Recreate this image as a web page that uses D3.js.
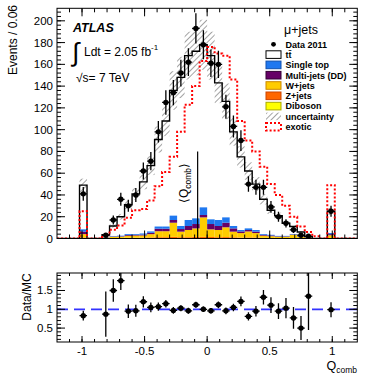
<!DOCTYPE html>
<html><head><meta charset="utf-8">
<script src="https://cdn.jsdelivr.net/npm/d3@7"></script>
<style>
body{margin:0;background:#fff;}
svg{display:block;font-family:"Liberation Sans",Arial,Helvetica,sans-serif;}
</style>
</head><body>
<svg id="c" width="368" height="377"></svg>
<script>
// ---------------- DATA ----------------
const binCenters = [-1.17,-1.11,-1.05,-0.99,-0.93,-0.87,-0.81,-0.75,-0.69,-0.63,-0.57,-0.51,-0.45,-0.39,-0.33,-0.27,-0.21,-0.15,-0.09,-0.03,
                    0.03,0.09,0.15,0.21,0.27,0.33,0.39,0.45,0.51,0.57,0.63,0.69,0.75,0.81,0.87,0.93,0.99,1.05,1.11,1.17];
const binWidth = 0.06;
const dataVals = [null,null,null,41,null,null,3,17,36,30,40,62,71,98,125,134,152,162,193,178,
                  161,160,121,103,90,50,47,47,29,20,14,8,3,2,null,null,25,null,null,null];
const dataErr  = [0,0,0,6.4,0,0,1.7,4.1,6,5.5,6.4,7.9,8.4,9.9,11.2,11.6,12.3,12.7,13.9,13.3,
                  12.7,12.6,11,10.1,9.5,7.1,6.9,6.9,5.4,4.5,3.8,2.9,1.7,1.4,0,0,5,0,0,0];
const ttbar    = [0,0,0,40.6,0,0,2.3,9.2,17.4,26.9,36.9,47.4,60.5,80,97,115,136.5,151,153.5,149.4,
                  150.4,126,106.6,86.5,67.2,52.7,42.2,31.9,22.6,18.6,11.6,6.9,3.6,0.3,0,0,20,0,0,0];
const singleTop= [0,0,0,2.1,0,0,0.2,0.4,0.5,0.8,0.7,1.0,1.3,2.0,2.0,4.0,2.8,5.5,5.2,7.0,
                  4.3,5.5,4.9,2.2,1.3,1.5,1.5,0.7,0.6,0.4,0.4,0.4,0.4,0.3,0,0,1.0,0,0,0];
const multiJets= [0,0,0,2.3,0,0,0.2,0.3,0.4,0.8,0.7,0.8,1.2,2.3,2.3,2.5,2.4,3.7,4.0,2.2,
                  4.9,3.7,4.2,3.0,1.5,1.3,1.3,0.8,0.7,0.4,0.4,0.3,0.4,0.2,0,0,1.0,0,0,0];
const wJets    = [0,0,0,3.0,0,0,0.6,1.2,1.2,1.8,2.0,2.0,3.0,5.5,5.5,13.0,5.1,6.6,7.8,17.9,
                  7.0,6.6,9.0,5.2,4.1,5.5,4.1,2.0,1.6,1.2,1.2,3.0,1.2,0.8,0,0,2.5,0,0,0];
const zJets    = [0,0,0,0.8,0,0,0.2,0.4,0.4,0.6,0.6,0.7,0.8,1.0,1.0,1.2,1.0,1.0,1.2,1.2,
                  1.1,1.0,1.1,0.9,0.7,0.8,0.7,0.5,0.4,0.3,0.3,0.3,0.3,0.2,0,0,0.4,0,0,0];
const diboson  = [0,0,0,0.2,0,0,0,0,0.1,0.1,0.1,0.1,0.2,0.2,0.2,0.3,0.2,0.2,0.3,0.3,
                  0.3,0.2,0.2,0.2,0.2,0.2,0.2,0.1,0.1,0.1,0.1,0.1,0.1,0,0,0,0.1,0,0,0];
const mcUnc    = [0,0,0,6,0,0,0.5,1.5,2.6,4,5.3,6.8,8.7,12,14,17.7,19,22,22,23,
                  22,18.6,16.4,12.7,9.8,8,6.5,4.7,3.4,2.7,1.8,1.4,0.8,0.3,0,0,3.2,0,0,0];
const exotic   = [0,0,0,25,0,0,3,8,12,19,26,27,35,48,61,75,98,123,140,163,
                  176,170,168,146,108,90,80,66,50,40,30,20,11,6,2,0,49,0,0,0];
const ratioVals= [null,null,null,0.83,null,null,0.87,1.5,1.76,0.95,0.96,1.2,1.05,1.07,1.15,0.97,1.03,0.96,1.12,1.0,
                  0.96,1.12,0.96,1.05,1.21,0.81,0.95,1.32,1.11,0.95,1.03,0.77,0.5,1.35,null,null,0.99,null,null,null];
const ratioErr = [0,0,0,0.13,0,0,0.6,0.3,0.25,0.18,0.16,0.15,0.13,0.11,0.1,0.09,0.08,0.08,0.08,0.075,
                  0.075,0.09,0.09,0.1,0.13,0.11,0.14,0.19,0.21,0.21,0.27,0.29,0.32,0.9,0,0,0.2,0,0,0];
const meanQ = -0.076, meanLineTop = 80;
const yTicksMain = [0,20,40,60,80,100,120,140,160,180,200];
const xTicks = [-1,-0.5,0,0.5,1];
const xTickLabels = ["-1","-0.5","0","0.5","1"];
const yTicksRatio = [0.5,1,1.5];
const yTickRatioLabels = ["0.5","1","1.5"];

const seriesKeys = ["diboson","zJets","wJets","multiJets","singleTop","ttbar"];
const seriesColors = {diboson:"#ffff00", zJets:"#ff6600", wJets:"#ffcc00", multiJets:"#660066", singleTop:"#1f78f0", ttbar:"#ffffff"};

// ---------------- LAYOUT ----------------
const svg = d3.select("#c");
const L = 57, R = 357.3;
const x = d3.scaleLinear().domain([-1.2,1.2]).range([L,R]);
const y = d3.scaleLinear().domain([0,211.5]).range([238.5,8.3]);
const yr = d3.scaleLinear().domain([0.13,1.965]).range([342,273]);

const defs = svg.append("defs");
const pat = defs.append("pattern").attr("id","hatch").attr("patternUnits","userSpaceOnUse")
  .attr("width",4).attr("height",4).attr("patternTransform","rotate(45)");
pat.append("line").attr("x1",0).attr("y1",0).attr("x2",0).attr("y2",4).attr("stroke","#333").attr("stroke-width",0.9);
defs.append("clipPath").attr("id","clipMain").append("rect").attr("x",L).attr("y",y(211.5)).attr("width",R-L).attr("height",y(0)-y(211.5));
defs.append("clipPath").attr("id","clipRatio").append("rect").attr("x",L).attr("y",273).attr("width",R-L).attr("height",342-273);

const table = binCenters.map((c,i)=>({c, diboson:diboson[i], zJets:zJets[i], wJets:wJets[i], multiJets:multiJets[i], singleTop:singleTop[i], ttbar:ttbar[i]}));
const stack = d3.stack().keys(seriesKeys)(table);

const gm = svg.append("g").attr("clip-path","url(#clipMain)");
// stacked colored backgrounds (ttbar is white)
stack.forEach(layer=>{
  if(layer.key==="ttbar") return;
  gm.append("g").selectAll("rect").data(layer).join("rect")
    .attr("x",(d,i)=>x(binCenters[i]-binWidth/2))
    .attr("width",x(binWidth)-x(0))
    .attr("y",d=>y(d[1]))
    .attr("height",d=>Math.max(0,y(d[0])-y(d[1])))
    .attr("fill",seriesColors[layer.key]);
});
const totals = table.map((d,i)=>stack[stack.length-1][i][1]);
// uncertainty band
totals.forEach((t,i)=>{
  if(t<=0) return;
  gm.append("rect").attr("x",x(binCenters[i]-binWidth/2)).attr("width",x(binWidth)-x(0))
    .attr("y",y(t+mcUnc[i])).attr("height",y(t-mcUnc[i])-y(t+mcUnc[i])).attr("fill","url(#hatch)");
});
// step helper
function stepPts(vals){
  const pts=[];
  vals.forEach((v,i)=>{pts.push([binCenters[i]-binWidth/2,v]);});
  pts.push([binCenters[vals.length-1]+binWidth/2, vals[vals.length-1]]);
  return pts;
}
const stepLine = d3.line().x(d=>x(d[0])).y(d=>y(d[1])).curve(d3.curveStepAfter);
gm.append("path").attr("d",stepLine(stepPts(totals))).attr("fill","none").attr("stroke","#000").attr("stroke-width",1.4);
gm.append("path").attr("d",stepLine(stepPts(exotic))).attr("fill","none").attr("stroke","#ff0000").attr("stroke-width",2).attr("stroke-dasharray","2,2");

// mean line
gm.append("line").attr("x1",x(meanQ)).attr("x2",x(meanQ)).attr("y1",y(0)).attr("y2",y(meanLineTop)).attr("stroke","#000").attr("stroke-width",1.2);
const mt = svg.append("text").attr("transform",`translate(${x(meanQ)-10},183) rotate(-90)`).attr("text-anchor","middle").attr("font-size",12);
mt.append("tspan").text("\u27E8Q");
mt.append("tspan").attr("font-size",8.5).attr("dy",3).text("comb");
mt.append("tspan").attr("dy",-3).text("\u27E9");

// data points
function drawPoints(g, vals, errs, ys){
  vals.forEach((v,i)=>{
    if(v===null) return;
    const cx = x(binCenters[i]);
    g.append("line").attr("x1",cx).attr("x2",cx).attr("y1",ys(v-errs[i])).attr("y2",ys(v+errs[i])).attr("stroke","#000").attr("stroke-width",1.3);
    g.append("line").attr("x1",x(binCenters[i]-binWidth/2)).attr("x2",x(binCenters[i]+binWidth/2)).attr("y1",ys(v)).attr("y2",ys(v)).attr("stroke","#000").attr("stroke-width",1.3);
    g.append("circle").attr("cx",cx).attr("cy",ys(v)).attr("r",2.7).attr("fill","#000");
  });
}
drawPoints(gm, dataVals, dataErr, y);

// ratio panel
const gr = svg.append("g").attr("clip-path","url(#clipRatio)");
gr.append("line").attr("x1",L).attr("x2",R).attr("y1",yr(1)).attr("y2",yr(1)).attr("stroke","#3333ff").attr("stroke-width",1.8).attr("stroke-dasharray","11,6");
drawPoints(gr, ratioVals, ratioErr, yr);

// frames and ticks
function frame(top,bottom){
  svg.append("rect").attr("x",L).attr("y",top).attr("width",R-L).attr("height",bottom-top).attr("fill","none").attr("stroke","#000").attr("stroke-width",1);
}
frame(8.3,238.5);
frame(273,342);
const tk = svg.append("g").attr("stroke","#000").attr("stroke-width",1);
function yTicks(scale, major, minor, lenMaj, lenMin){
  minor.forEach(v=>{const yy=scale(v);
    tk.append("line").attr("x1",L).attr("x2",L+lenMin).attr("y1",yy).attr("y2",yy);
    tk.append("line").attr("x1",R).attr("x2",R-lenMin).attr("y1",yy).attr("y2",yy);});
  major.forEach(v=>{const yy=scale(v);
    tk.append("line").attr("x1",L).attr("x2",L+lenMaj).attr("y1",yy).attr("y2",yy);
    tk.append("line").attr("x1",R).attr("x2",R-lenMaj).attr("y1",yy).attr("y2",yy);});
}
function xTicksF(top,bottom,lenMaj,lenMin){
  const minor = d3.range(-1.1,1.15,0.1).map(v=>+v.toFixed(2));
  minor.forEach(v=>{const xx=x(v);
    tk.append("line").attr("x1",xx).attr("x2",xx).attr("y1",bottom).attr("y2",bottom-lenMin);
    tk.append("line").attr("x1",xx).attr("x2",xx).attr("y1",top).attr("y2",top+lenMin);});
  xTicks.forEach(v=>{const xx=x(v);
    tk.append("line").attr("x1",xx).attr("x2",xx).attr("y1",bottom).attr("y2",bottom-lenMaj);
    tk.append("line").attr("x1",xx).attr("x2",xx).attr("y1",top).attr("y2",top+lenMaj);});
}
yTicks(y, yTicksMain, d3.range(4,211,4), 8, 4);
xTicksF(8.3,238.5,8,4);
yTicks(yr, yTicksRatio, d3.range(0.2,1.95,0.1).map(v=>+v.toFixed(2)), 8, 4);
xTicksF(273,342,6,3);

// tick labels
const fs = 11.5;
svg.append("g").selectAll("text").data(yTicksMain).join("text")
  .attr("x",L-4).attr("y",d=>y(d)+4).attr("text-anchor","end").attr("font-size",fs).text(d=>d);
svg.append("g").selectAll("text").data(yTicksRatio).join("text")
  .attr("x",L-4).attr("y",d=>yr(d)+4).attr("text-anchor","end").attr("font-size",fs).text((d,i)=>yTickRatioLabels[i]);
svg.append("g").selectAll("text").data(xTicks).join("text")
  .attr("x",d=>x(d)).attr("y",354.5).attr("text-anchor","middle").attr("font-size",fs).text((d,i)=>xTickLabels[i]);

// axis titles
svg.append("text").attr("transform","translate(17,5) rotate(-90)").attr("text-anchor","end").attr("font-size",12).text("Events / 0.06");
svg.append("text").attr("transform","translate(31,297) rotate(-90)").attr("text-anchor","middle").attr("font-size",12).text("Data/MC");
const qt = svg.append("text").attr("x",357).attr("y",370).attr("text-anchor","end").attr("font-size",12.5);
qt.append("tspan").text("Q");
qt.append("tspan").attr("font-size",8.5).attr("dy",3).text("comb");

// ATLAS labels
svg.append("text").attr("x",73).attr("y",32).attr("font-size",12.5).attr("font-weight","bold").attr("font-style","italic").text("ATLAS");
svg.append("text").attr("x",72).attr("y",61).attr("font-size",26).text("\u222B");
const lt = svg.append("text").attr("x",84).attr("y",56).attr("font-size",12);
lt.append("tspan").text("Ldt = 2.05 fb");
lt.append("tspan").attr("font-size",8).attr("dy",-6).text("-1");
svg.append("text").attr("x",76).attr("y",82).attr("font-size",12).text("\u221As= 7 TeV");

// legend
svg.append("text").attr("x",284).attr("y",34).attr("font-size",12.5).text("\u03BC+jets");
const legItems = [
  {label:"Data 2011", type:"data"},
  {label:"tt\u0304", type:"box", fill:"#fff", stroke:"#000"},
  {label:"Single top", type:"box", fill:seriesColors.singleTop, stroke:"#1050b0"},
  {label:"Multi-jets (DD)", type:"box", fill:seriesColors.multiJets, stroke:"#330033"},
  {label:"W+jets", type:"box", fill:seriesColors.wJets, stroke:"#cc8800"},
  {label:"Z+jets", type:"box", fill:seriesColors.zJets, stroke:"#cc4400"},
  {label:"Diboson", type:"box", fill:seriesColors.diboson, stroke:"#aaaa00"},
  {label:"uncertainty", type:"hatch"},
  {label:"exotic", type:"exotic"}
];
const lg = svg.append("g");
legItems.forEach((d,i)=>{
  const cy = 44.3 + i*10.3;
  if(d.type==="data"){
    lg.append("circle").attr("cx",273.5).attr("cy",cy).attr("r",2.4).attr("fill","#000");
  } else if(d.type==="box"){
    lg.append("rect").attr("x",266).attr("y",cy-3.8).attr("width",15).attr("height",7.6).attr("fill",d.fill).attr("stroke",d.stroke).attr("stroke-width",1);
  } else if(d.type==="hatch"){
    lg.append("rect").attr("x",266).attr("y",cy-3.8).attr("width",15).attr("height",7.6).attr("fill","url(#hatch)");
  } else {
    lg.append("rect").attr("x",266).attr("y",cy-3.8).attr("width",15).attr("height",7.6).attr("fill","#fff").attr("stroke","#ff0000").attr("stroke-width",2).attr("stroke-dasharray","2,2");
  }
  lg.append("text").attr("x",285.5).attr("y",cy+3.3).attr("font-size",9).attr("font-weight","bold").text(d.label);
});
</script>
</body></html>
